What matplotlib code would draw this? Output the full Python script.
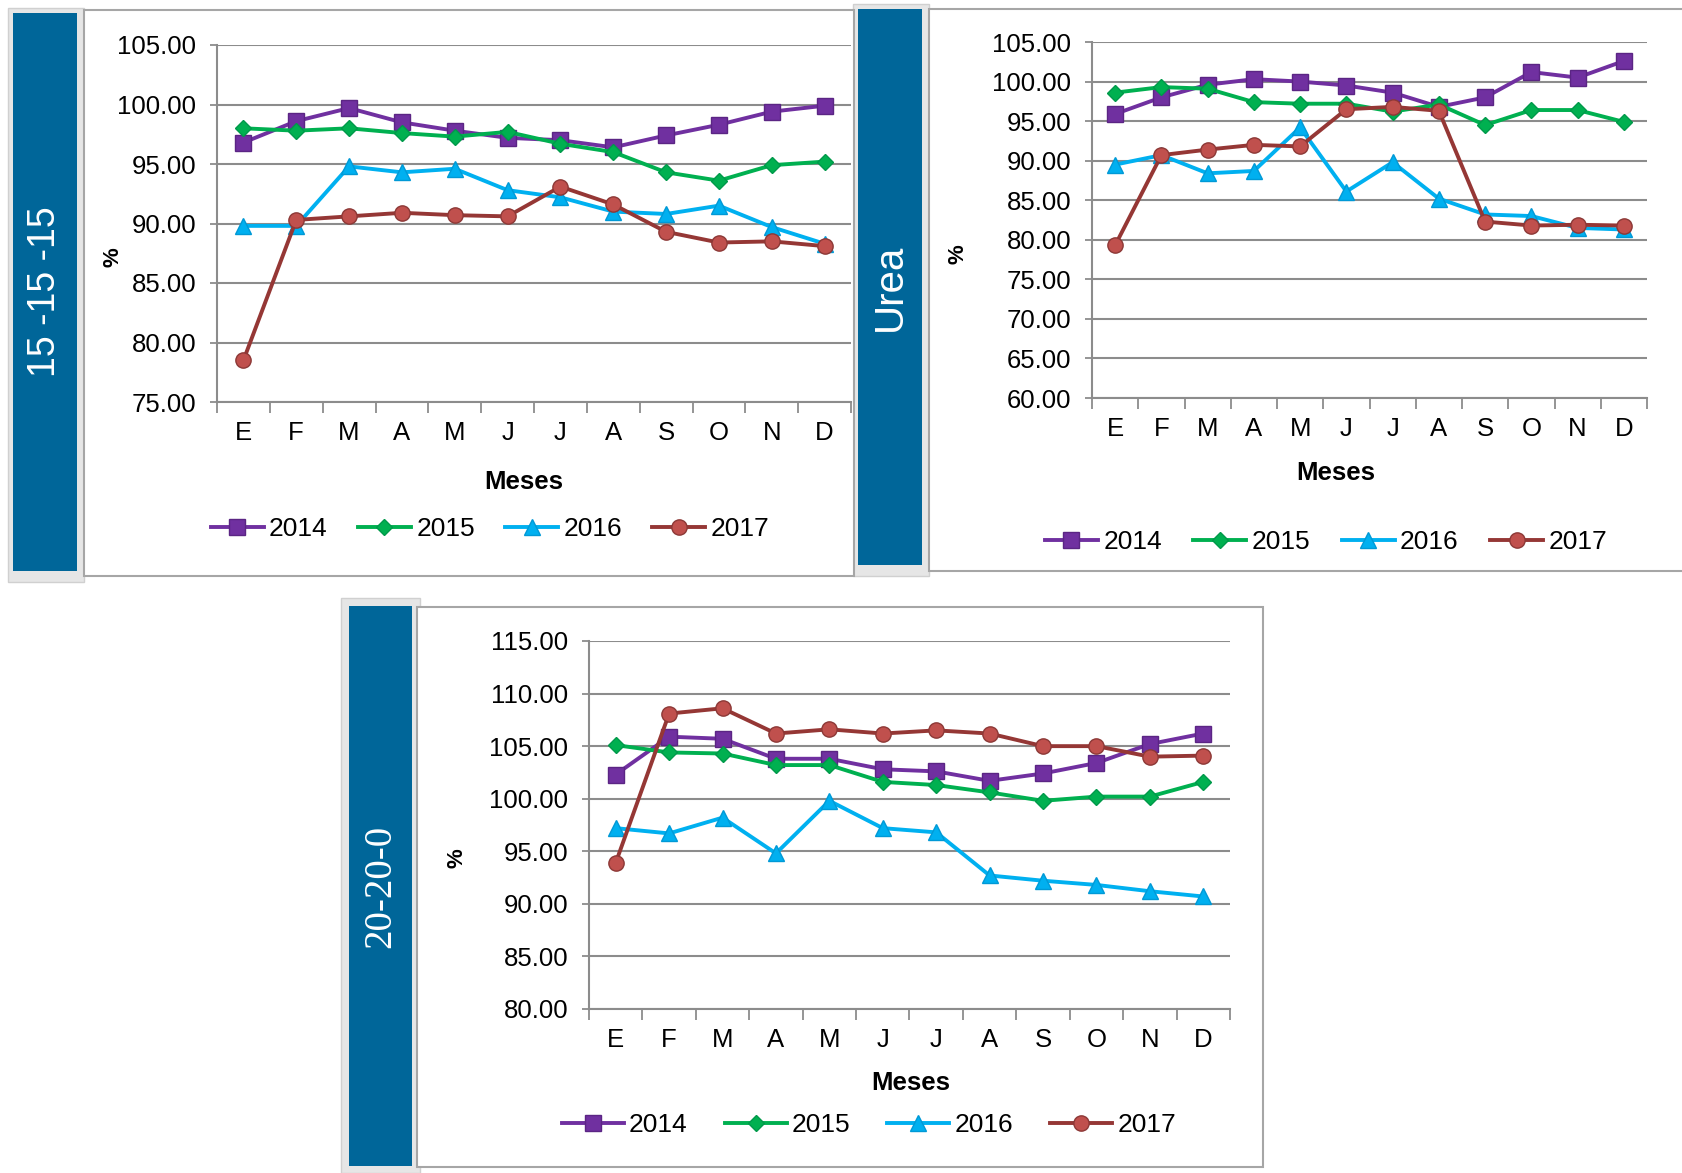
import matplotlib
matplotlib.use("Agg")
import matplotlib.pyplot as plt
from matplotlib.patches import Rectangle
from matplotlib.lines import Line2D

plt.rcParams['font.family'] = ['Liberation Sans', 'DejaVu Sans']

months = ["E", "F", "M", "A", "M", "J", "J", "A", "S", "O", "N", "D"]
years = ["2014", "2015", "2016", "2017"]

# 15-15-15
npk_2014 = [96.8, 98.6, 99.7, 98.5, 97.8, 97.2, 97.0, 96.4, 97.4, 98.3, 99.4, 99.9]
npk_2015 = [98.0, 97.8, 98.0, 97.6, 97.3, 97.7, 96.7, 96.0, 94.3, 93.6, 94.9, 95.2]
npk_2016 = [89.8, 89.8, 94.8, 94.3, 94.6, 92.8, 92.2, 91.0, 90.8, 91.5, 89.7, 88.3]
npk_2017 = [78.5, 90.3, 90.6, 90.9, 90.7, 90.6, 93.1, 91.6, 89.3, 88.4, 88.5, 88.1]

# Urea
urea_2014 = [95.9, 98.0, 99.6, 100.3, 100.0, 99.5, 98.6, 96.8, 98.0, 101.2, 100.5, 102.6]
urea_2015 = [98.6, 99.3, 99.1, 97.4, 97.2, 97.2, 96.2, 97.1, 94.5, 96.4, 96.4, 94.9]
urea_2016 = [89.5, 90.7, 88.4, 88.7, 94.2, 86.1, 89.8, 85.2, 83.2, 83.0, 81.5, 81.3]
urea_2017 = [79.3, 90.7, 91.4, 92.0, 91.8, 96.5, 96.8, 96.3, 82.3, 81.8, 81.9, 81.8]

# 20-20-0
np_2014 = [102.3, 105.9, 105.7, 103.8, 103.8, 102.8, 102.6, 101.7, 102.4, 103.4, 105.2, 106.2]
np_2015 = [105.1, 104.4, 104.3, 103.2, 103.2, 101.6, 101.3, 100.6, 99.8, 100.2, 100.2, 101.6]
np_2016 = [97.2, 96.7, 98.2, 94.8, 99.8, 97.2, 96.8, 92.7, 92.2, 91.8, 91.2, 90.7]
np_2017 = [93.9, 108.1, 108.6, 106.2, 106.6, 106.2, 106.5, 106.2, 105.0, 105.0, 104.0, 104.1]

W, H = 1682, 1173
fig = plt.figure(figsize=(W / 100, H / 100), dpi=100)
fig.patch.set_facecolor("white")

def fx(x):
    return x / W

def fy(y):
    return 1 - y / H

def rect(x0, y0, x1, y1, fc, ec="none", lw=0, z=0):
    fig.add_artist(Rectangle((fx(x0), fy(y1)), (x1 - x0) / W, (y1 - y0) / H,
                             transform=fig.transFigure, facecolor=fc,
                             edgecolor=ec, linewidth=lw, zorder=z))

styles = [
    dict(color="#7030A0", marker="s", markersize=11, markerfacecolor="#7030A0", markeredgecolor="#5B2584"),
    dict(color="#00B050", marker="D", markersize=8.5, markerfacecolor="#00B050", markeredgecolor="#00994A"),
    dict(color="#00B0F0", marker="^", markersize=11, markerfacecolor="#00B0F0", markeredgecolor="#0099D6"),
    dict(color="#953735", marker="o", markersize=11, markerfacecolor="#C0504D", markeredgecolor="#8C3836"),
]

BLUE = "#006699"
GRID = "#8C8C8C"

panels = [
    dict(series=[npk_2014, npk_2015, npk_2016, npk_2017], ylim=(75, 105),
         band=(13, 13, 77, 571), band_bg=(8, 8, 84, 582), frame=(84, 10, 854, 576),
         ax=(217, 45, 851, 402), title="15 -15 -15", tfam=['Liberation Sans'], tsize=27,
         pct=(113, 257), meses=(524, 482), leg=(490, 529), hl=2.0, cs=1.15),
    dict(series=[urea_2014, urea_2015, urea_2016, urea_2017], ylim=(60, 105),
         band=(858, 9, 922, 565), band_bg=(853, 4, 929, 576), frame=(929, 9, 1690, 571),
         ax=(1092, 42, 1647, 398), title="Urea", tfam=['Liberation Sans'], tsize=29,
         pct=(958, 254), meses=(1336, 473), leg=(1326, 542), hl=2.0, cs=1.2),
    dict(series=[np_2014, np_2015, np_2016, np_2017], ylim=(80, 115),
         band=(349, 606, 412, 1166), band_bg=(341, 598, 420, 1173), frame=(417, 607, 1263, 1167),
         ax=(589, 641, 1230, 1009), title="20-20-0", tfam=['Liberation Serif'], tsize=28,
         pct=(457, 858), meses=(911, 1083), leg=(869, 1125), hl=2.35, cs=1.4),
]

for p in panels:
    bx0, by0, bx1, by1 = p["band_bg"]
    rect(bx0, by0, bx1, by1, fc="#E6E6E6", ec="#D0D0D0", lw=1, z=0)
    x0, y0, x1, y1 = p["band"]
    rect(x0, y0, x1, y1, fc=BLUE, z=1)
    fig.text(fx((x0 + x1) / 2), fy((y0 + y1) / 2), p["title"], rotation=90,
             color="white", fontsize=p["tsize"], family=p["tfam"],
             ha="center", va="center", zorder=3)
    fx0, fy0, fx1, fy1 = p["frame"]
    rect(fx0, fy0, fx1, fy1, fc="white", ec="#A6A6A6", lw=1.5, z=1)

    ax0, ay0, ax1, ay1 = p["ax"]
    ax = fig.add_axes([fx(ax0), fy(ay1), (ax1 - ax0) / W, (ay1 - ay0) / H])
    ax.set_zorder(5)
    ax.patch.set_alpha(0)
    xs = list(range(len(months)))
    for s, st in zip(p["series"], styles):
        ax.plot(xs, s, linewidth=2.8, **st)
    lo, hi = p["ylim"]
    ax.set_ylim(lo, hi)
    ax.set_xlim(-0.5, len(months) - 0.5)
    ax.set_yticks(list(range(lo, hi + 1, 5)))
    ax.set_yticklabels([f"{v:.2f}" for v in range(lo, hi + 1, 5)])
    ax.set_xticks([i - 0.5 for i in range(len(months) + 1)])
    ax.set_xticklabels([])
    ax.set_xticks(xs, minor=True)
    ax.set_xticklabels(months, minor=True)
    ax.tick_params(axis="x", which="major", length=8, width=1.3, color=GRID, direction="out")
    ax.tick_params(axis="x", which="minor", length=0, pad=14, labelsize=18.5)
    ax.tick_params(axis="y", length=5, width=1.3, color=GRID, pad=10, labelsize=18.5)
    ax.yaxis.grid(True, color=GRID, linewidth=1.5)
    ax.set_axisbelow(True)
    for sp in ["top", "right"]:
        ax.spines[sp].set_visible(False)
    for sp in ["left", "bottom"]:
        ax.spines[sp].set_color(GRID)
        ax.spines[sp].set_linewidth(1.5)

    px, py = p["pct"]
    fig.text(fx(px), fy(py), "%", rotation=90, fontsize=16, fontweight="bold",
             ha="center", va="center", zorder=6)
    mx, my = p["meses"]
    fig.text(fx(mx), fy(my), "Meses", fontsize=18.5, fontweight="bold",
             ha="center", va="center", zorder=6)

    handles = [Line2D([], [], linewidth=2.8, **st) for st in styles]
    lx, ly = p["leg"]
    fig.legend(handles, years, loc="center", bbox_to_anchor=(fx(lx), fy(ly)),
               ncol=4, frameon=False, fontsize=19, handlelength=p["hl"],
               handletextpad=0.2, columnspacing=p["cs"])

fig.savefig("out.png", dpi=100, facecolor="white")
